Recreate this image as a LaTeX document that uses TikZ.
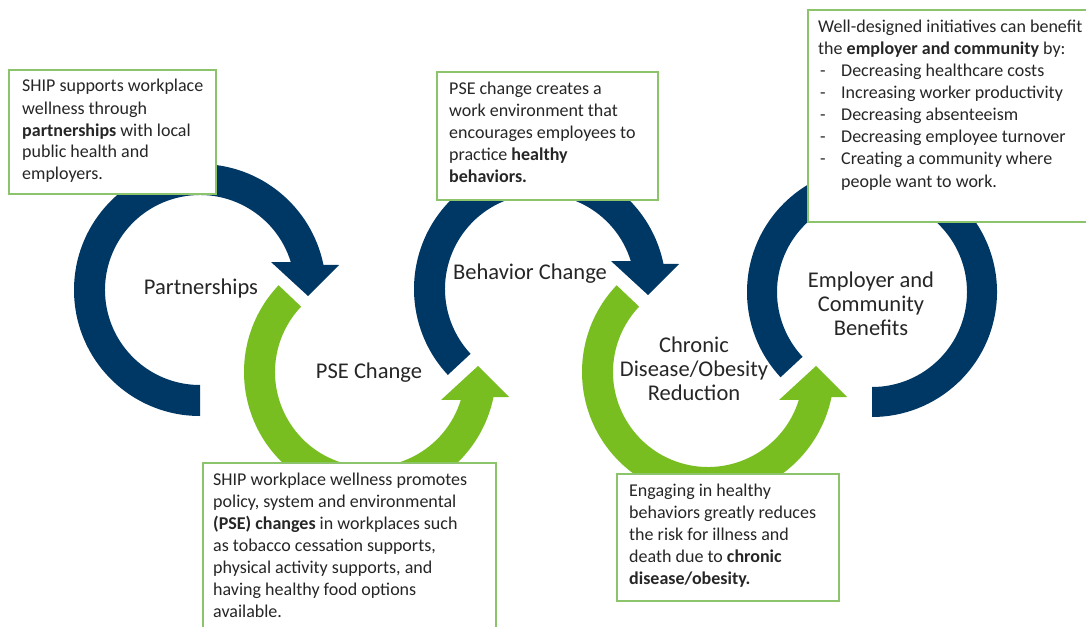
\documentclass[tikz,border=0pt]{standalone}
\usepackage{fontspec}
\setmainfont{Carlito}
\definecolor{shipblue}{HTML}{003865}
\definecolor{shipgreen}{HTML}{78BE21}
\definecolor{boxline}{HTML}{8CC46C}
\definecolor{ink}{HTML}{262626}
\tikzset{
  infobox/.style={draw=boxline, line width=1.3pt, fill=white, inner sep=0pt, outer sep=0pt, anchor=north west},
  boxtext/.style={anchor=base west, inner sep=0pt, text=ink, font=\fontsize{18}{22}\selectfont},
  ringlabel/.style={anchor=base, inner sep=0pt, text=ink, font=\fontsize{22.5}{24}\selectfont},
}
\newcommand\listdash{\makebox[23pt][l]{\hspace{2pt}-}}
\begin{document}
\begin{tikzpicture}[x=1pt, y=-1pt]
\useasboundingbox (0,0) rectangle (1086,626);
\clip (0,0) rectangle (1086,626);
\fill[white] (0,0) rectangle (1086,626);

% --- circular arrows (centre-relative coordinates, y pointing down) ---
% Partnerships: clockwise, arrow head on the right pointing down
\begin{scope}[shift={(200,290)}]
  \fill[shipblue] (90:126) arc[start angle=90, end angle=348.5, radius=126]
    -- (139,-25) -- (108,6) -- (71,-28) -- (343:95)
    arc[start angle=343, end angle=90, radius=95] -- cycle;
\end{scope}
% PSE Change: counter-clockwise, arrow head on the right pointing up
\begin{scope}[shift={(370,372)}]
  \fill[shipgreen] (223.5:126) arc[start angle=223.5, end angle=11.5, radius=126]
    -- (139,25) -- (108,-6) -- (71,28) -- (17:95)
    arc[start angle=17, end angle=223.5, radius=95] -- cycle;
\end{scope}
% Behavior Change
\begin{scope}[shift={(540,289)}]
  \fill[shipblue] (137:126) arc[start angle=137, end angle=348.5, radius=126]
    -- (139,-25) -- (108,6) -- (71,-28) -- (343:95)
    arc[start angle=343, end angle=137, radius=95] -- cycle;
\end{scope}
% Chronic disease / obesity reduction
\begin{scope}[shift={(708,372)}]
  \fill[shipgreen] (223.5:126) arc[start angle=223.5, end angle=11.5, radius=126]
    -- (139,25) -- (108,-6) -- (71,28) -- (17:95)
    arc[start angle=17, end angle=223.5, radius=95] -- cycle;
\end{scope}
% Employer and community benefits: open ring, no head
\begin{scope}[shift={(872,292)}]
  \fill[shipblue] (137:125) arc[start angle=137, end angle=450, radius=125]
    -- (450:95) arc[start angle=450, end angle=137, radius=95] -- cycle;
\end{scope}

% --- text boxes ---
\node[infobox, minimum width=207pt, minimum height=124pt] (partbox) at (9,70) {};
\node[infobox, minimum width=221pt, minimum height=128pt] (behbox) at (437,72) {};
\node[infobox, minimum width=300pt, minimum height=212pt] (benbox) at (808,10) {};
\node[infobox, minimum width=293pt, minimum height=200pt] (psebox) at (203,463) {};
\node[infobox, minimum width=222pt, minimum height=127pt] (cdbox) at (617,474) {};

\node[boxtext] (parttext) at (22,92) {\parbox[t]{300pt}{\raggedright
  SHIP supports workplace\\wellness through\\\textbf{partnerships} with local\\public health and\\employers.}};
\node[boxtext] (behtext) at (449,94) {\parbox[t]{300pt}{\raggedright
  PSE change creates a\\work environment that\\encourages employees to\\practice \textbf{healthy}\\\textbf{behaviors.}}};
\node[boxtext] (bentext) at (818,33) {\parbox[t]{320pt}{\raggedright
  Well-designed initiatives can benefit\\the \textbf{employer and community} by:\\
  \listdash Decreasing healthcare costs\\
  \listdash Increasing worker productivity\\
  \listdash Decreasing absenteeism\\
  \listdash Decreasing employee turnover\\
  \listdash Creating a community where\\
  \hspace*{23pt}people want to work.}};
\node[boxtext] (psetext) at (213,485) {\parbox[t]{300pt}{\raggedright
  SHIP workplace wellness promotes\\policy, system and environmental\\\textbf{(PSE) changes} in workplaces such\\as tobacco cessation supports,\\physical activity supports, and\\having healthy food options\\available.}};
\node[boxtext] (cdtext) at (629,496) {\parbox[t]{300pt}{\raggedright
  Engaging in healthy\\behaviors greatly reduces\\the risk for illness and\\death due to \textbf{chronic}\\\textbf{disease/obesity.}}};

% --- ring labels ---
\node[ringlabel] (partlabel) at (201,294) {Partnerships};
\node[ringlabel] (pselabel) at (369,378) {PSE Change};
\node[ringlabel] (behlabel) at (530,279) {Behavior Change};
\node[ringlabel] (cdlabel) at (694,352) {\parbox[t]{200pt}{\centering Chronic\\Disease/Obesity\\Reduction}};
\node[ringlabel] (benlabel) at (871,287) {\parbox[t]{200pt}{\centering Employer and\\Community\\Benefits}};
\end{tikzpicture}
\end{document}
